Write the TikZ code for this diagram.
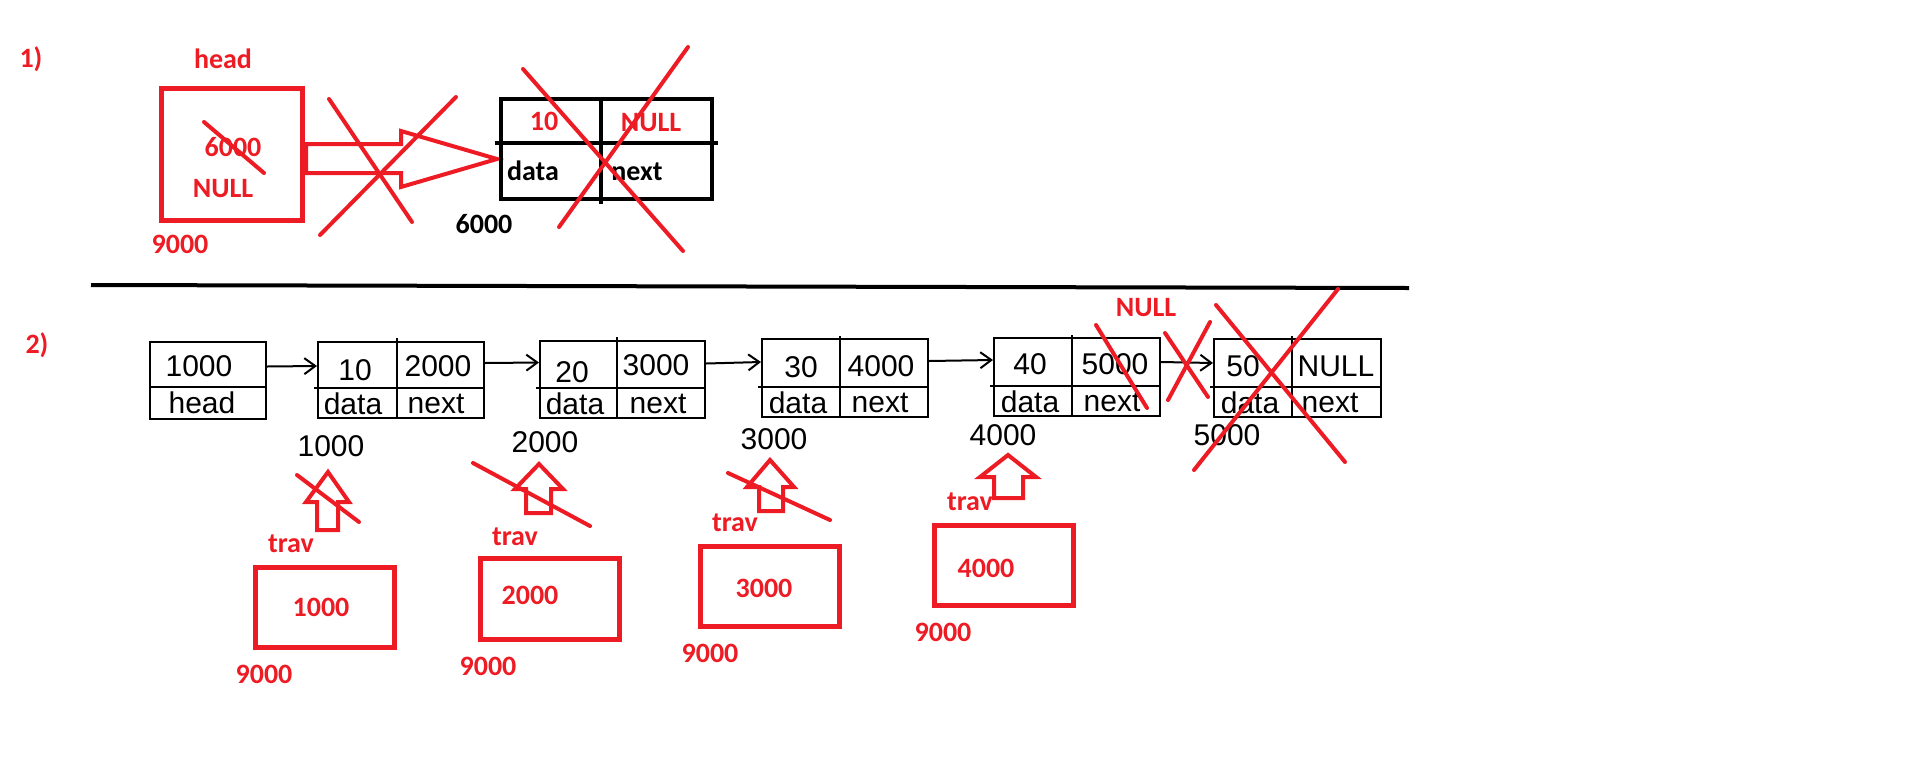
\documentclass[tikz,border=0pt]{standalone}
\usepackage{fontspec}
\setmainfont{Carlito}
\newfontfamily\listfont{Liberation Sans}
\usetikzlibrary{arrows.meta}
\definecolor{pred}{HTML}{ED1C24}
\newcommand\uparrowshape[8]{\draw[barrow] (#1,#2) -- (#4,#5) -- (#7,#5) -- (#7,#8) -- (#6,#8) -- (#6,#5) -- (#3,#5) -- cycle;}
\begin{document}
\begin{tikzpicture}[x=1pt,y=-1pt,
  redlbl/.style={text=pred, font=\fontsize{28}{31}\selectfont\bfseries, inner sep=0pt},
  blklbl/.style={text=black, font=\fontsize{28}{31}\selectfont\bfseries, inner sep=0pt},
  lst/.style={text=black, font=\listfont\fontsize{30}{33}\selectfont, inner sep=0pt},
  strike/.style={draw=pred, line width=4pt, line cap=round},
  rbox/.style={draw=pred, line width=5pt, inner sep=0pt},
  tblline/.style={draw=black, line width=4.5pt},
  lbox/.style={draw=black, line width=2pt, inner sep=0pt},
  lline/.style={draw=black, line width=2pt},
  conn/.style={draw=black, line width=2pt, -{Straight Barb[length=11pt,width=16pt,line width=2pt]}},
  barrow/.style={draw=pred, line width=4pt, line join=miter},
  sep/.style={draw=black, line width=4pt}
]
\useasboundingbox (0,0) rectangle (1910,772);

% ---------- part 1 ----------
\node[redlbl] (l1) at (31,59) {1)};
\node[redlbl] (headlbl) at (223,59) {head};
\node[rbox, minimum width=141, minimum height=132] (headbox) at (231.5,154) {};
\node[redlbl] (v6000) at (233,147) {6000};
\node[redlbl] (vnull) at (223,189) {NULL};
\node[redlbl] (a9000) at (180,244) {9000};
\draw[strike] (204,122) -- (264,173);

% block arrow
\draw[barrow] (306,144) -- (401,144) -- (401,131) -- (497,159) -- (401,187) -- (401,173) -- (306,173) -- cycle;
\draw[strike] (329,99) -- (412,222);
\draw[strike] (456,97) -- (320,235);

% table node
\node[draw=black, line width=4.5pt, minimum width=211, minimum height=100, inner sep=0pt] (tbl) at (606.5,149) {};
\draw[tblline] (495,143) -- (718,143);
\draw[tblline] (601,99) -- (601,204);
\node[redlbl] (t10) at (544,121) {10};
\node[redlbl] (tnull) at (651,123) {NULL};
\node[blklbl] (tdata) at (533,171) {data};
\node[blklbl] (tnext) at (637,172) {next};
\node[blklbl] (t6000) at (484,224) {6000};
\draw[strike] (523,69) -- (683,251);
\draw[strike] (688,47) -- (559,227);

% separator
\draw[sep] (91,285) -- (1409,288);

% ---------- part 2 ----------
\node[redlbl] (l2) at (37,345) {2)};

% head box
\node[lbox, minimum width=116, minimum height=77] (hb) at (208,380.5) {};
\draw[lline] (150,387) -- (266,387);
\node[lst] at (199,366) {1000};
\node[lst] at (202,403) {head};

% node 1
\node[lbox, minimum width=166, minimum height=76] (n1) at (401,380) {};
\draw[lline] (314,388) -- (484,388);
\draw[lline] (397,338) -- (397,418);
\node[lst] at (355,370) {10};
\node[lst] at (438,366) {2000};
\node[lst] at (353,404) {data};
\node[lst] at (436,404) {next};
\node[lst] at (331,446) {1000};

% node 2
\node[lbox, minimum width=165, minimum height=77] (n2) at (622.5,379.5) {};
\draw[lline] (536,388) -- (705,388);
\draw[lline] (617,337) -- (617,418);
\node[lst] at (572,372) {20};
\node[lst] at (656,365) {3000};
\node[lst] at (575,404) {data};
\node[lst] at (658,404) {next};
\node[lst] at (545,442) {2000};

% node 3
\node[lbox, minimum width=166, minimum height=78] (n3) at (845,378) {};
\draw[lline] (758,387) -- (928,387);
\draw[lline] (840,336) -- (840,417);
\node[lst] at (801,367) {30};
\node[lst] at (881,366) {4000};
\node[lst] at (798,403) {data};
\node[lst] at (880,403) {next};
\node[lst] at (774,439) {3000};

% node 4
\node[lbox, minimum width=166, minimum height=78] (n4) at (1077,377) {};
\draw[lline] (990,386) -- (1160,386);
\draw[lline] (1072,335) -- (1072,416);
\node[lst] at (1030,364) {40};
\node[lst] at (1115,364) {5000};
\node[lst] at (1030,402) {data};
\node[lst] at (1112,402) {next};
\node[lst] at (1003,435) {4000};

% node 5
\node[lbox, minimum width=167, minimum height=78] (n5) at (1297.5,378) {};
\draw[lline] (1210,387) -- (1381,387);
\draw[lline] (1292,336) -- (1292,417);
\node[lst] at (1243,366) {50};
\node[lst] at (1336,366) {NULL};
\node[lst] at (1250,403) {data};
\node[lst] at (1330,403) {next};
\node[lst] at (1227,435) {5000};

% connectors
\draw[conn] ([yshift=14pt]hb.east) -- ([yshift=14pt]n1.west);
\draw[conn] ([yshift=17pt]n1.east) -- ([yshift=17pt]n2.west);
\draw[conn] ([yshift=16pt]n2.east) -- ([yshift=16pt]n3.west);
\draw[conn] ([yshift=17pt]n3.east) -- ([yshift=17pt]n4.west);
\draw[conn] ([yshift=15pt]n4.east) -- ([yshift=15pt]n5.west);

% red marks on list
\node[redlbl] (nnull) at (1146,308) {NULL};
\draw[strike] (1096,325) -- (1147,408);
\draw[strike] (1165,333) -- (1208,397);
\draw[strike] (1210,322) -- (1168,400);
\draw[strike] (1216,305) -- (1345,462);
\draw[strike] (1338,289) -- (1194,470);

% trav pointers
\uparrowshape{328}{472}{306}{349}{502}{317}{338}{530}
\draw[strike] (297,475) -- (359,522);
\node[redlbl] (trav1) at (291,544) {trav};
\node[rbox, minimum width=139, minimum height=80] (tb1) at (324.5,607) {};
\node[redlbl] at (321,607) {1000};
\node[redlbl] at (264,674) {9000};

\uparrowshape{539}{464}{515}{563}{489}{526}{551}{513}
\draw[strike] (473,463) -- (590,526);
\node[redlbl] (trav2) at (515,537) {trav};
\node[rbox, minimum width=139, minimum height=81] (tb2) at (549.5,598.5) {};
\node[redlbl] at (530,595) {2000};
\node[redlbl] at (488,666) {9000};

\uparrowshape{770}{460}{747}{794}{487}{759}{783}{511}
\draw[strike] (728,473) -- (830,520);
\node[redlbl] (trav3) at (735,523) {trav};
\node[rbox, minimum width=139, minimum height=80] (tb3) at (769.5,586) {};
\node[redlbl] at (764,588) {3000};
\node[redlbl] at (710,653) {9000};

\uparrowshape{1008}{455}{980}{1036}{477}{994}{1023}{498}
\node[redlbl] (trav4) at (970,502) {trav};
\node[rbox, minimum width=139, minimum height=80] (tb4) at (1003.5,565) {};
\node[redlbl] at (986,568) {4000};
\node[redlbl] at (943,632) {9000};
\end{tikzpicture}
\end{document}
